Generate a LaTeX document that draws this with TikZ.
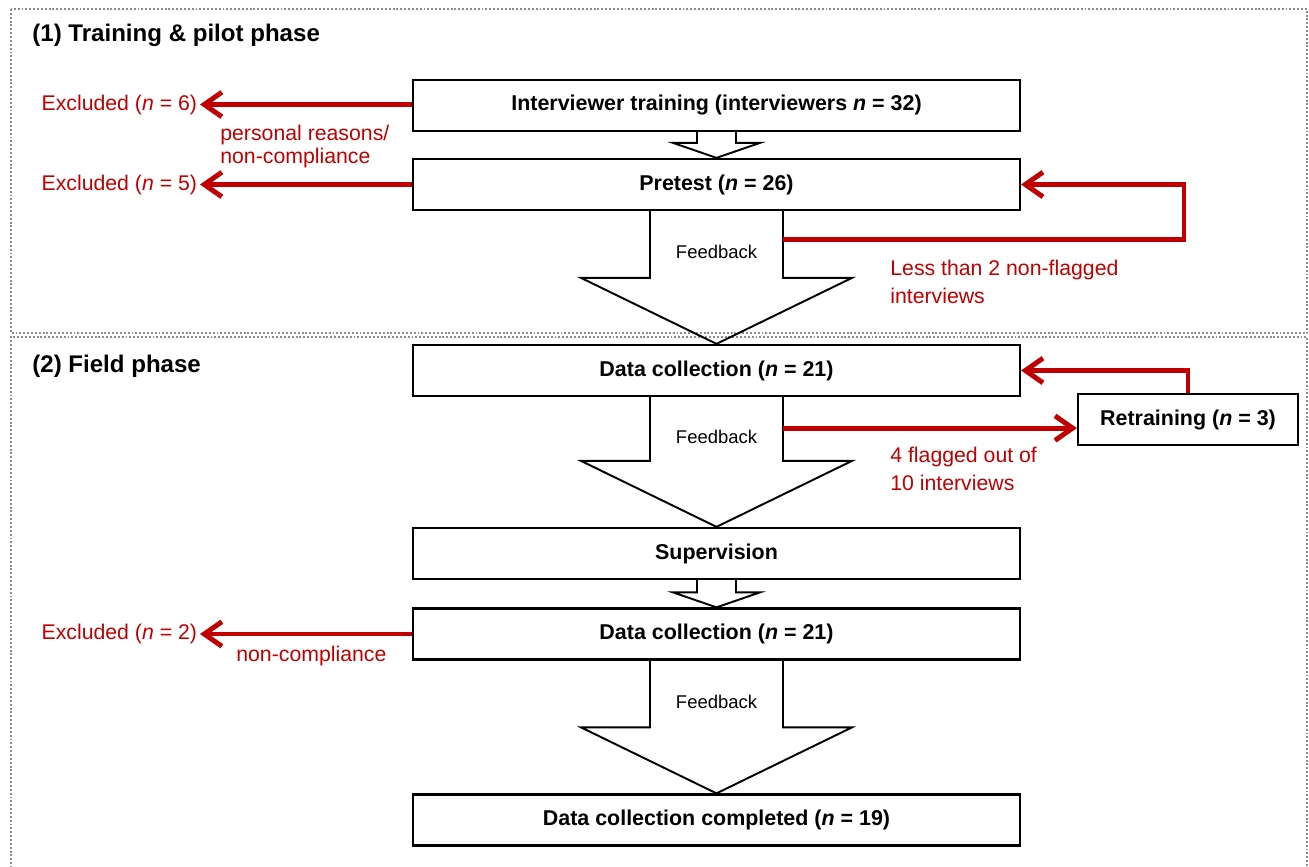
\documentclass[tikz,border=0pt]{standalone}
\usepackage{fontspec}
\setmainfont{Liberation Sans}
\usetikzlibrary{arrows.meta,calc,positioning}
\definecolor{qcred}{RGB}{192,0,0}
\definecolor{qcframe}{RGB}{140,140,140}
\newcommand{\blockdown}[5]{%
  \draw[blockarrow] ($(#1.south)+(-#3,0)$) -- ($(#2.north)+(-#3,-#5)$)
    -- ($(#2.north)+(-#4,-#5)$) -- (#2.north) -- ($(#2.north)+(#4,-#5)$)
    -- ($(#2.north)+(#3,-#5)$) -- ($(#1.south)+(#3,0)$);}

\begin{document}
\begin{tikzpicture}[x=.02cm,y=-.02cm,
  stage/.style={draw,line width=1.3pt,minimum width=12.14cm,minimum height=1.02cm,
    inner sep=0pt,font=\fontsize{12.2}{14}\selectfont\bfseries},
  phase/.style={anchor=west,inner sep=0pt,font=\fontsize{13.7}{16}\selectfont\bfseries},
  note/.style={qcred,inner sep=0pt,align=left,font=\fontsize{12.1}{13}\selectfont},
  loopnote/.style={note,anchor=west,font=\fontsize{12.1}{16}\selectfont},
  exclnote/.style={note,anchor=east,inner sep=1.5pt},
  fbnote/.style={inner sep=0pt,font=\fontsize{10.5}{12}\selectfont},
  flagarrow/.style={qcred,line width=2.8pt,-{Straight Barb[length=10pt,width=14pt]}},
  blockarrow/.style={line width=1.1pt},
  phasebox/.style={qcframe,line width=1.2pt,dash pattern=on 1.1pt off 1.1pt}]
  \useasboundingbox (0,0) rectangle (1309,866);
  \draw[phasebox] (11,9) rectangle (1307,333);
  \draw[phasebox] (11,868) -- (11,337) -- (1307,337) -- (1307,868);
  \node[phase] (ph1) at (32,35) {(1) Training \& pilot phase};
  \node[phase] (ph2) at (32,366) {(2) Field phase};

  \node[stage] (train) at (716.5,105.5) {Interviewer training (interviewers \textit{n} = 32)};
  \node[stage] (pretest) at (716.5,184.5) {Pretest (\textit{n} = 26)};
  \node[stage] (coll1) at (716.5,370.5) {Data collection (\textit{n} = 21)};
  \node[stage] (superv) at (716.5,553.5) {Supervision};
  \node[stage] (coll2) at (716.5,634) {Data collection (\textit{n} = 21)};
  \node[stage] (done) at (716.5,820) {Data collection completed (\textit{n} = 19)};
  \node[stage,minimum width=4.4cm] (retrain) at (1188,419.5) {Retraining (\textit{n} = 3)};

  \blockdown{train}{pretest}{19.5}{43.5}{15}
  \blockdown{pretest}{coll1}{66.5}{135.5}{66}
  \blockdown{coll1}{superv}{66.5}{135.5}{66}
  \blockdown{superv}{coll2}{19.5}{43.5}{15}
  \blockdown{coll2}{done}{66.5}{135.5}{66}
  \node[fbnote] (fb1) at (716.5,252) {Feedback};
  \node[fbnote] (fb2) at (716.5,437) {Feedback};
  \node[fbnote] (fb3) at (716.5,702) {Feedback};

  \node[exclnote] (excl6) at (200,104.5) {Excluded (\textit{n} = 6)};
  \node[exclnote] (excl5) at (200,184.5) {Excluded (\textit{n} = 5)};
  \node[exclnote] (excl2) at (200,634) {Excluded (\textit{n} = 2)};
  \node[note,anchor=west] (why6) at (220,146.5) {personal reasons/\\non-compliance};
  \node[note,anchor=west] (why2) at (236,656) {non-compliance};
  \node[loopnote] (why1) at (890,282) {Less than 2 non-flagged\\interviews};
  \node[loopnote] (why3) at (890,469) {4 flagged out of\\10 interviews};

  \coordinate (loop1) at ($(pretest.south)+(66.5,28)$);
  \coordinate (turn1) at (1184,184.5);
  \coordinate (loop2) at ($(coll1.south)+(66.5,31)$);
  \draw[flagarrow] (train.west |- excl6.east) -- (excl6.east);
  \draw[flagarrow] (pretest.west) -- (excl5.east);
  \draw[flagarrow] (coll2.west) -- (excl2.east);
  \draw[flagarrow] (loop1) -| (turn1) -- (pretest.east);
  \draw[flagarrow] (loop2) -- (loop2 -| retrain.west);
  \draw[flagarrow] (retrain.north) |- (coll1.east);
\end{tikzpicture}
\end{document}
